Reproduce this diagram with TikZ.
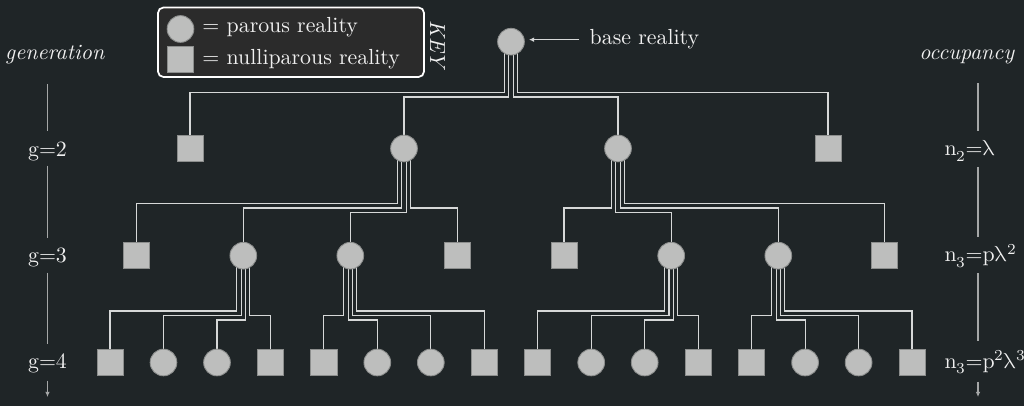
\documentclass[tikz,border=0pt]{standalone}
\usepackage{unicode-math}
\usetikzlibrary{arrows.meta}

\definecolor{bgdark}{RGB}{31,37,39}
\definecolor{keyfill}{RGB}{43,43,43}
\definecolor{realfill}{RGB}{189,190,189}
\definecolor{realedge}{RGB}{140,142,141}
\definecolor{wirecol}{RGB}{214,216,216}
\definecolor{rulecol}{RGB}{165,167,167}
\definecolor{inkcol}{RGB}{240,240,240}

\pgfdeclarelayer{back}
\pgfdeclarelayer{wires}
\pgfsetlayers{back,wires,main}

\begin{document}
\begin{tikzpicture}[x=0.0161cm, y=-0.0161cm,
    every node/.style={text=inkcol},
    parous/.style={circle, fill=realfill, draw=realedge, line width=0.4pt,
                   minimum size=0.43cm, inner sep=0pt},
    nullip/.style={rectangle, fill=realfill, draw=realedge, line width=0.4pt,
                   minimum size=0.42cm, inner sep=0pt},
    occlabel/.style={anchor=base west, execute at begin node={\scriptspace=0pt}},
    wire/.style={wirecol, line width=0.5pt},
    ruler/.style={rulecol, line width=0.5pt},
    tip/.style={-{Latex[length=2.4pt, width=2.2pt]}}]

  % background
  \begin{pgfonlayer}{back}
    \fill[bgdark] (0,0) rectangle (1024,406);
  \end{pgfonlayer}
  \useasboundingbox (0,0) rectangle (1024,406);

  % key
  \draw[white, line width=0.8pt, fill=keyfill, rounded corners=2.5pt]
    (158,7.5) rectangle (424,77);
  \node[parous] (keyp) at (180.5,29) {};
  \node[nullip] (keyn) at (180.5,59.3) {};
  \node[anchor=base west, inner sep=0] (keyptext) at (202,32.3) {= parous reality};
  \node[anchor=base west, inner sep=0] (keyntext) at (202,65) {= nulliparous reality};
  \node[rotate=-90, inner sep=0] (keylabel) at (437.5,45.7) {\textit{KEY}};

  % realities
  \node[parous] (root) at (511,41.7) {};

  \node[nullip] (a1) at (190,148.5) {};
  \node[parous] (a2) at (404,148.5) {};
  \node[parous] (a3) at (618,148.5) {};
  \node[nullip] (a4) at (828,148.5) {};

  \node[nullip] (b1) at (136.7,255.7) {};
  \node[parous] (b2) at (243.3,255.7) {};
  \node[parous] (b3) at (350.3,255.7) {};
  \node[nullip] (b4) at (457.4,255.7) {};
  \node[nullip] (b5) at (564,255.7) {};
  \node[parous] (b6) at (671.2,255.7) {};
  \node[parous] (b7) at (778.3,255.7) {};
  \node[nullip] (b8) at (884.5,255.7) {};

  \foreach \nm/\x/\kind in {c1/110/nullip, c2/163.5/parous, c3/217/parous,
      c4/270.4/nullip, c5/323.9/nullip, c6/377.3/parous, c7/430.8/parous,
      c8/484.3/nullip, c9/537.8/nullip, c10/591.2/parous, c11/644.7/parous,
      c12/698.2/nullip, c13/751.6/nullip, c14/805.1/parous, c15/858.6/parous,
      c16/912/nullip}
    \node[\kind] (\nm) at (\x,362.5) {};

  % offspring wires: parent/child/offset/level
  \begin{pgfonlayer}{wires}
    \foreach \pa/\ch/\off/\lev in {
        root/a1/-6.6/92.3, root/a2/-2.2/97, root/a3/2.2/97, root/a4/6.6/92.3,
        a2/b1/-6.6/203.3, a2/b2/-2.2/208, a2/b3/2.2/212.7, a2/b4/6.6/208,
        a3/b5/-6.6/208, a3/b6/-2.2/212.7, a3/b7/2.2/208, a3/b8/6.6/203.3,
        b2/c1/-6.6/311, b2/c2/-2.2/315.7, b2/c3/2.2/320, b2/c4/6.6/315.7,
        b3/c5/-6.6/315.7, b3/c6/-2.2/320, b3/c7/2.2/315.7, b3/c8/6.6/311,
        b6/c9/-6.6/311, b6/c10/-2.2/315.7, b6/c11/2.2/320, b6/c12/6.6/315.7,
        b7/c13/-6.6/315.7, b7/c14/-2.2/320, b7/c15/2.2/315.7, b7/c16/6.6/311}
      \draw[wire] (\pa.center) ++(\off,0) |- (\ch |- 0,\lev) -- (\ch);
  \end{pgfonlayer}

  % base reality pointer
  \node[anchor=base west, inner sep=0] (base) at (589.3,45) {base reality};
  \draw[wire, tip, shorten <=4.6pt, shorten >=1.9pt]
    (base.west) -- (base.west -| root.east);

  % generation scale
  \node[anchor=base] (gen) at (55,59.8) {\textit{generation}};
  \node[anchor=base] (g2) at (47.5,156.7) {g=2};
  \node[anchor=base] (g3) at (47.5,262.5) {g=3};
  \node[anchor=base] (g4) at (47.5,368.5) {g=4};
  \coordinate (genend) at (47.5,397);

  \draw[ruler, shorten <=5.4pt, shorten >=1.6pt] (gen.south -| g2) -- (g2.north);
  \draw[ruler, shorten <=-1.5pt, shorten >=1pt] (g2.south) -- (g3.north);
  \draw[ruler, shorten <=-0.9pt, shorten >=1pt] (g3.south) -- (g4.north);
  \draw[ruler, tip] (g4.south) -- (genend);

  % occupancy scale
  \node[anchor=base] (occ) at (967,59.5) {\textit{occupancy}};
  \node[occlabel] (n2) at (937,156) {n$_2$=$\symup{\lambda}$};
  \node[occlabel] (n3a) at (937,262) {n$_3$=p$\symup{\lambda}^2$};
  \node[occlabel] (n3b) at (937,368.3) {n$_3$=p$^2\symup{\lambda}^3$};
  \coordinate (occx) at (978,0);
  \coordinate (occend) at (978,397);

  \draw[ruler, shorten <=5.4pt, shorten >=1.1pt] (occ.south -| occx) -- (n2.north -| occx);
  \draw[ruler, shorten <=-1pt, shorten >=-0.5pt] (n2.south -| occx) -- (n3a.north -| occx);
  \draw[ruler, shorten <=-0.9pt, shorten >=0.5pt] (n3a.south -| occx) -- (n3b.north -| occx);
  \draw[ruler, tip] (n3b.south -| occx) -- (occend);
\end{tikzpicture}
\end{document}
